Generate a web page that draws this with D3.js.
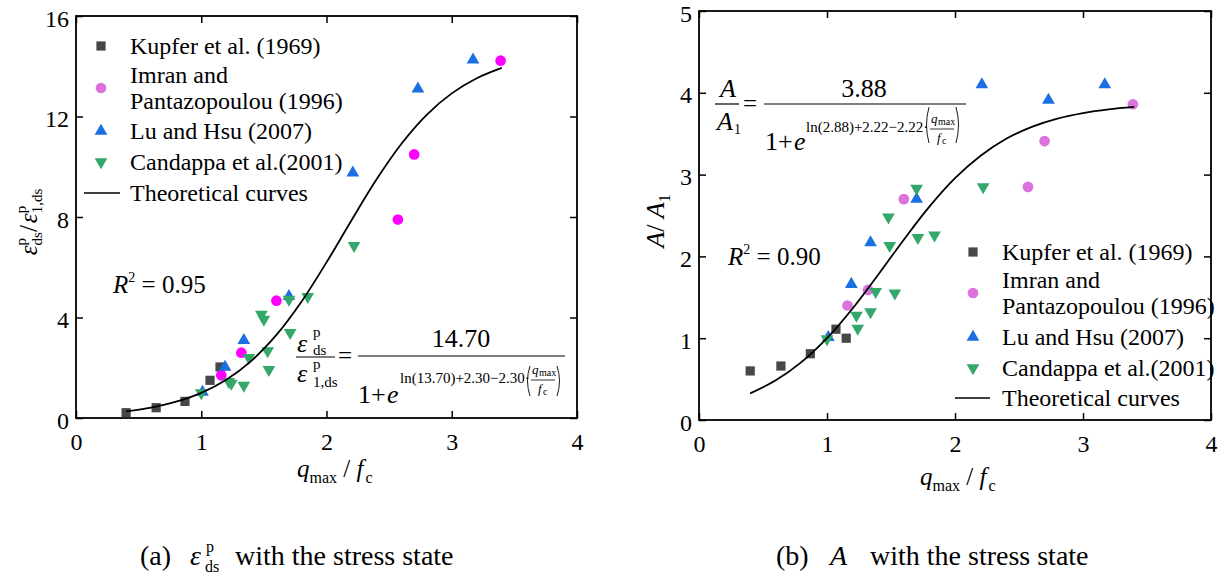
<!DOCTYPE html>
<html>
<head>
<meta charset="utf-8">
<script src="https://cdn.jsdelivr.net/npm/d3@7"></script>
<style>
  body { margin: 0; background: #fff; }
  svg { display: block; font-family: "Liberation Serif", "Times New Roman", serif; }
</style>
</head>
<body>
<div id="chart"></div>
<script>
// ---- data ----
var xTickValues = [0, 1, 2, 3, 4];
var strainTicks = [0, 4, 8, 12, 16];
var areaTicks = [0, 1, 2, 3, 4, 5];

var kupferX = [0.40, 0.64, 0.87, 1.07, 1.15];
var kupferStrain = [0.21, 0.41, 0.66, 1.50, 2.03];
var kupferArea = [0.60, 0.66, 0.81, 1.11, 1.00];

var imranX = [1.16, 1.32, 1.60, 2.57, 2.70, 3.39];
var imranStrain = [1.70, 2.60, 4.67, 7.90, 10.49, 14.22];
var imranArea = [1.40, 1.59, 2.70, 2.85, 3.41, 3.86];

var luX = [1.01, 1.19, 1.34, 1.70, 2.21, 2.73, 3.17];
var luStrain = [1.03, 2.03, 3.09, 4.84, 9.76, 13.10, 14.26];
var luArea = [1.01, 1.66, 2.17, 2.70, 4.10, 3.91, 4.10];

var candStrainX = [1.00, 1.22, 1.24, 1.34, 1.38, 1.48, 1.50, 1.53, 1.54, 1.70, 1.71, 1.85, 2.22];
var candStrain = [1.00, 1.45, 1.38, 1.30, 2.40, 4.12, 3.92, 2.67, 1.92, 4.72, 3.40, 4.83, 6.86];
var candAreaX = [1.00, 1.23, 1.24, 1.34, 1.38, 1.48, 1.49, 1.53, 1.70, 1.71, 1.84, 2.22];
var candArea = [0.99, 1.28, 1.12, 1.32, 1.57, 2.48, 2.13, 1.55, 2.83, 2.23, 2.26, 2.85];

// theoretical curves
var curveX = [0.4, 0.6, 0.8, 1.0, 1.2, 1.4, 1.6, 1.8, 2.0, 2.2, 2.4, 2.6, 2.8, 3.0, 3.2, 3.4];
var curveStrain = [0.265, 0.415, 0.648, 1.000, 1.523, 2.276, 3.306, 4.628, 6.193, 7.873, 9.500, 10.925, 12.068, 12.921, 13.524, 13.935];
var curveArea = [0.326, 0.485, 0.707, 1.000, 1.363, 1.776, 2.204, 2.608, 2.956, 3.231, 3.438, 3.584, 3.685, 3.752, 3.797, 3.827];

var legendNames = ["Kupfer et al. (1969)", "Imran and", "Pantazopoulou (1996)", "Lu and Hsu  (2007)", "Candappa et al.(2001)", "Theoretical curves"];

var grey = "#474747", magenta = "#ff00ff", orchid = "#dc72dc", blue = "#1c6fe0", green = "#33a86a";

var svg = d3.select("#chart").append("svg")
  .attr("width", 1224)
  .attr("height", 581);

function zip(xs, ys) {
  return xs.map(function(x, i) { return [x, ys[i]]; });
}

var squareSym = d3.symbol().type(d3.symbolSquare).size(85);
var circleSym = d3.symbol().type(d3.symbolCircle).size(90);
var triSym = d3.symbol().type(d3.symbolTriangle).size(70);

function drawMarkers(g, data, sym, color, x, y, flip) {
  g.selectAll(null)
    .data(data)
    .enter()
    .append("path")
    .attr("d", sym)
    .attr("fill", color)
    .attr("transform", d => `translate(${x(d[0])},${y(d[1])})` + (flip ? " rotate(180)" : ""));
}

function drawPanel(p) {
  var x = d3.scaleLinear().domain([0, 4]).range([p.left, p.right]);
  var y = d3.scaleLinear().domain([0, p.yMax]).range([p.bottom, p.top]);
  var fmt = d3.format("d");

  var bottomAxis = d3.axisBottom(x).tickValues(xTickValues).tickFormat(fmt).tickSize(-7).tickPadding(15);
  var topAxis = d3.axisTop(x).tickValues(xTickValues).tickSize(-7).tickFormat("");
  var leftAxis = d3.axisLeft(y).tickValues(p.yTicks).tickFormat(fmt).tickSize(-7).tickPadding(7);
  var rightAxis = d3.axisRight(y).tickValues(p.yTicks).tickSize(-7).tickFormat("");

  var gb = svg.append("g").attr("transform", `translate(0,${p.bottom})`).call(bottomAxis);
  var gt = svg.append("g").attr("transform", `translate(0,${p.top})`).call(topAxis);
  var gl = svg.append("g").attr("transform", `translate(${p.left},0)`).call(leftAxis);
  var gr = svg.append("g").attr("transform", `translate(${p.right},0)`).call(rightAxis);

  [gb, gt, gl, gr].forEach(function(g) {
    g.select(".domain").remove();
    g.selectAll("line").attr("stroke", "#000").attr("stroke-width", 1.5);
    g.selectAll("text")
      .attr("font-family", "Liberation Serif, Times New Roman, serif")
      .attr("font-size", 24)
      .attr("fill", "#000");
  });
  gl.selectAll("text").attr("dy", "0.42em");

  svg.append("rect")
    .attr("x", p.left).attr("y", p.top)
    .attr("width", p.right - p.left).attr("height", p.bottom - p.top)
    .attr("fill", "none").attr("stroke", "#000").attr("stroke-width", 1.8);

  var marks = svg.append("g");
  drawMarkers(marks, zip(kupferX, p.kupfer), squareSym, grey, x, y, false);
  drawMarkers(marks, zip(imranX, p.imran), circleSym, p.imranColor, x, y, false);
  drawMarkers(marks, zip(luX, p.lu), triSym, blue, x, y, false);
  drawMarkers(marks, zip(p.candX, p.cand), triSym, green, x, y, true);

  var line = d3.line()
    .x(d => x(d[0]))
    .y(d => y(d[1]))
    .curve(d3.curveCatmullRom);

  svg.append("path")
    .datum(zip(curveX, p.curve))
    .attr("d", line)
    .attr("fill", "none")
    .attr("stroke", "#000")
    .attr("stroke-width", 1.8);

  // legend
  var L = p.legend;
  var lg = svg.append("g").attr("font-size", 24);
  var rows = [
    { sym: squareSym, color: grey, cy: L.rows[0] },
    { sym: circleSym, color: orchid, cy: L.rows[1] },
    { sym: triSym, color: blue, cy: L.rows[3] },
    { sym: triSym, color: green, cy: L.rows[4], flip: true }
  ];
  rows.forEach(function(r) {
    lg.append("path")
      .attr("d", r.sym)
      .attr("fill", r.color)
      .attr("transform", `translate(${L.mx},${r.cy})` + (r.flip ? " rotate(180)" : ""));
  });
  lg.append("line")
    .attr("x1", L.lx0).attr("x2", L.lx1)
    .attr("y1", L.rows[5]).attr("y2", L.rows[5])
    .attr("stroke", "#000").attr("stroke-width", 1.5);
  legendNames.forEach(function(name, i) {
    var cy = i === 1 ? L.rows[1] - 13 : i === 2 ? L.rows[1] + 13 : L.rows[i];
    lg.append("text").attr("x", L.tx).attr("y", cy + 8).text(name);
  });

  // x axis title
  var xt = svg.append("text").attr("x", p.xTitle[0]).attr("y", p.xTitle[1]).attr("font-size", 25);
  xt.append("tspan").attr("font-style", "italic").text("q");
  xt.append("tspan").attr("font-size", 16).attr("dy", 6).text("max");
  xt.append("tspan").attr("dy", -6).text(" / ");
  xt.append("tspan").attr("font-style", "italic").text("f");
  xt.append("tspan").attr("font-size", 16).attr("dy", 6).attr("dx", 2).text("c");

  return { x: x, y: y };
}

function txt(x, y, size, s, italic, anchor) {
  return svg.append("text")
    .attr("x", x).attr("y", y)
    .attr("font-size", size)
    .attr("font-style", italic ? "italic" : null)
    .attr("text-anchor", anchor || "start")
    .text(s);
}

function hbar(x0, x1, y, w) {
  svg.append("line").attr("x1", x0).attr("x2", x1).attr("y1", y).attr("y2", y)
    .attr("stroke", "#000").attr("stroke-width", w || 1.2);
}

function paren(x, y0, y1, open) {
  var bow = open ? -5 : 5;
  svg.append("path")
    .attr("d", `M${x},${y0} Q${x + bow},${(y0 + y1) / 2} ${x},${y1}`)
    .attr("fill", "none").attr("stroke", "#000").attr("stroke-width", 0.9);
}

// exponent block: "ln(..)+a−a·(q_max / f_c)"
function exponent(x, y, s, px, top, bot) {
  txt(x, y, 15, s);
  paren(px + 4, top, bot, true);
  txt(px + 6, y - 9, 13, "q", true);
  txt(px + 13, y - 7, 10, "max");
  hbar(px + 5, px + 29, y - 3, 0.8);
  txt(px + 12, y + 10, 13, "f", true);
  txt(px + 17, y + 12, 10, "c");
  paren(px + 31, top, bot, false);
}

function rSquared(x, y, val) {
  var t = svg.append("text").attr("x", x).attr("y", y).attr("font-size", 25);
  t.append("tspan").attr("font-style", "italic").text("R");
  t.append("tspan").attr("font-size", 14).attr("dy", -11).text("2");
  t.append("tspan").attr("dy", 11).text(" = " + val);
}

// ---- panel (a) ----
drawPanel({
  left: 76, right: 577, top: 16, bottom: 418,
  yMax: 16, yTicks: strainTicks,
  kupfer: kupferStrain, imran: imranStrain, imranColor: magenta,
  lu: luStrain, candX: candStrainX, cand: candStrain, curve: curveStrain,
  legend: { mx: 101, tx: 130, lx0: 84, lx1: 120, rows: [46, 88, 0, 131, 162, 193] },
  xTitle: [297, 477]
});

var ya = svg.append("text").attr("transform", "translate(37,222) rotate(-90)")
  .attr("text-anchor", "middle").attr("font-size", 25);
ya.append("tspan").attr("font-style", "italic").text("ε");
ya.append("tspan").attr("font-size", 15).attr("dy", -11).text("p");
ya.append("tspan").attr("font-size", 15).attr("dx", -7.5).attr("dy", 16).text("ds");
ya.append("tspan").attr("dy", -5).text("/");
ya.append("tspan").attr("font-style", "italic").attr("dx", 2).text("ε");
ya.append("tspan").attr("font-size", 15).attr("dy", -11).text("p");
ya.append("tspan").attr("font-size", 15).attr("dx", -7.5).attr("dy", 16).text("1,ds");

rSquared(113, 293, "0.95");

// formula (a)
txt(297, 352, 26, "ε", true);
txt(313, 337, 15, "p");
txt(313, 355, 15, "ds");
hbar(296, 335, 357);
txt(297, 382, 26, "ε", true);
txt(313, 369, 15, "p");
txt(313, 387, 15, "1,ds");
txt(338, 364, 25, "=");
hbar(358, 565, 356);
txt(461, 347, 26, "14.70", false, "middle");
txt(358, 403, 26, "1+");
txt(387, 403, 26, "e", true);
exponent(400, 383, "ln(13.70)+2.30−2.30·", 526, 366, 396);

// ---- panel (b) ----
drawPanel({
  left: 699, right: 1211, top: 11, bottom: 420,
  yMax: 5, yTicks: areaTicks,
  kupfer: kupferArea, imran: imranArea, imranColor: orchid,
  lu: luArea, candX: candAreaX, cand: candArea, curve: curveArea,
  legend: { mx: 973, tx: 1002, lx0: 955, lx1: 990, rows: [252, 293, 0, 337, 368, 398] },
  xTitle: [920, 485]
});

var yb = svg.append("text").attr("transform", "translate(664,221) rotate(-90)")
  .attr("text-anchor", "middle").attr("font-size", 26);
yb.append("tspan").attr("font-style", "italic").text("A");
yb.append("tspan").text("/ ");
yb.append("tspan").attr("font-style", "italic").text("A");
yb.append("tspan").attr("font-size", 16).attr("dy", 6).text("1");

rSquared(728, 265, "0.90");

// formula (b)
txt(720, 97, 26, "A", true);
hbar(715, 739, 104);
txt(717, 130, 26, "A", true);
txt(734, 134, 14, "1");
txt(743, 112, 25, "=");
hbar(764, 966, 104);
txt(864, 97, 26, "3.88", false, "middle");
txt(765, 150, 26, "1+");
txt(794, 150, 26, "e", true);
exponent(806, 132, "ln(2.88)+2.22−2.22·", 925, 107, 143);

// ---- captions ----
txt(140, 565, 28, "(a)");
txt(190, 565, 28, "ε", true);
txt(206, 552, 16, "p");
txt(205, 572, 16, "ds");
txt(235, 565, 28, "with the stress state");

txt(776, 565, 28, "(b)");
txt(830, 565, 28, "A", true);
txt(870, 565, 28, "with the stress state");
</script>
</body>
</html>
